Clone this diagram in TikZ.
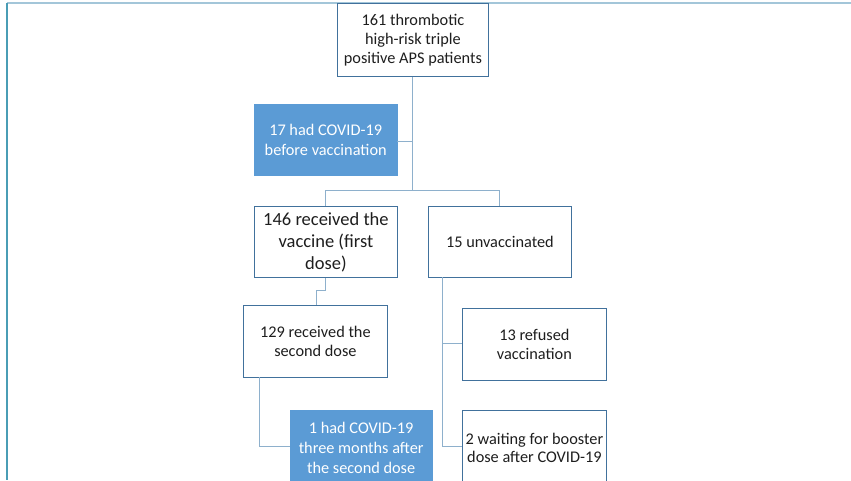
\documentclass[tikz,border=0pt]{standalone}
\usepackage{fontspec}
\setmainfont{Carlito}
\definecolor{boxline}{HTML}{41719C}
\definecolor{conn}{HTML}{8EB0CC}
\definecolor{bluefill}{HTML}{5B9BD5}
\definecolor{frametop}{HTML}{A3C6D9}
\definecolor{frameleft}{HTML}{4A9DB5}
\definecolor{txt}{HTML}{1E1E1E}
\begin{document}
\begin{tikzpicture}[x=1pt,y=-1pt,
  wbox/.style={draw=boxline, line width=0.8pt, fill=white, text=txt, align=center, inner sep=0pt, font=\fontsize{16.3}{18.8}\selectfont},
  bbox/.style={draw=bluefill, fill=bluefill, text=white, align=center, inner sep=0pt, font=\fontsize{16.3}{20}\selectfont},
  cline/.style={draw=conn, line width=1pt}]
\useasboundingbox (0,0) rectangle (851,480);
\fill[white] (0,0) rectangle (851,480);
\draw[frametop, line width=1.6pt] (7,3) -- (851,3);
\draw[frameleft, line width=1.4pt] (7,3) -- (7,480);
% boxes
\node[wbox, minimum width=151pt, minimum height=73pt, anchor=north west] (top) at (337,3) {161 thrombotic\\high-risk triple\\positive APS patients};
\node[bbox, minimum width=143pt, minimum height=71pt, anchor=north west] (covid) at (254,104) {17 had COVID-19\\before vaccination};
\node[wbox, font=\fontsize{18.5}{22}\selectfont, minimum width=143pt, minimum height=71pt, anchor=north west] (vac) at (254,206) {146 received the\\vaccine (first\\dose)};
\node[wbox, minimum width=143pt, minimum height=71pt, anchor=north west] (unvac) at (428,206) {15 unvaccinated};
\node[wbox, minimum width=144pt, minimum height=72pt, anchor=north west] (second) at (243,305) {129 received the\\second dose};
\node[wbox, minimum width=144pt, minimum height=72pt, anchor=north west] (refused) at (462,308) {13 refused\\vaccination};
\node[bbox, minimum width=142pt, minimum height=75pt, anchor=north west] (after) at (290,410) {1 had COVID-19\\three months after\\the second dose};
\node[wbox, minimum width=144pt, minimum height=75pt, anchor=north west] (waiting) at (462,410) {2 waiting for booster\\dose after COVID-19};
% junction coordinates
\coordinate (j1) at (412,190);
\coordinate (j2) at (412,141);
% connectors
\draw[cline] (top.south -| j1) -- (j1);
\draw[cline] (covid.east |- j2) -- (j2);
\draw[cline] (vac.north) -- (vac.north |- j1) -- (unvac.north |- j1) -- (unvac.north);
\draw[cline] (vac.south) -- ++(0,13) -| (316,305);
\draw[cline] (259,377) |- (after.west |- 0,446);
\draw[cline] (442,277) |- (refused.west |- 0,343);
\draw[cline] (442,343) |- (waiting.west |- 0,446);
\end{tikzpicture}
\end{document}
